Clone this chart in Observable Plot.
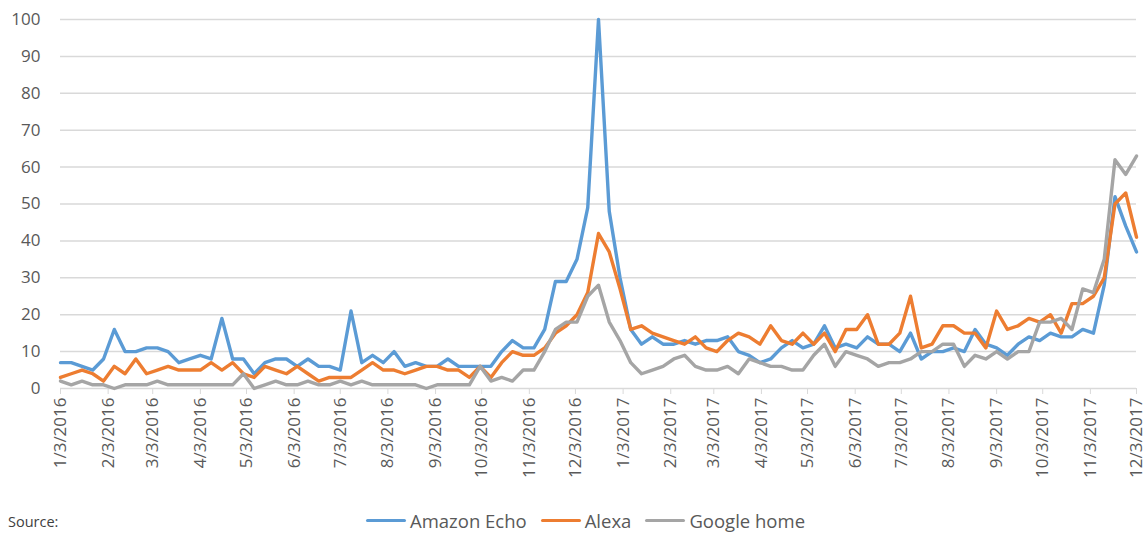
<!DOCTYPE html>
<html><head><meta charset="utf-8">
<script src="https://cdn.jsdelivr.net/npm/d3@7"></script>
<script src="https://cdn.jsdelivr.net/npm/@observablehq/plot@0.6"></script>
<style>
body{margin:0;background:#fff;font-family:"Open Sans",sans-serif;}
#wrap{position:relative;width:1146px;height:533px;overflow:hidden;}
#source{position:absolute;left:8px;top:513px;font-size:14.5px;line-height:18px;color:#404040;}
#legend{position:absolute;left:0;width:1171px;top:508px;display:flex;justify-content:center;gap:14px;font-size:18.5px;color:#595959;}
.item{display:flex;align-items:center;gap:4px;}
.sw{display:inline-block;width:40px;height:3.5px;border-radius:2px;}
</style></head><body>
<div id="wrap"><div id="chart"></div><div id="source">Source:</div><div id="legend"></div></div>
<script>
const seriesNames = ["Amazon Echo", "Alexa", "Google home"];
const seriesColors = ["#5B9BD5", "#ED7D31", "#A5A5A5"];
const startDate = "1/3/2016";
const tickLabels = ["1/3/2016","2/3/2016","3/3/2016","4/3/2016","5/3/2016","6/3/2016","7/3/2016","8/3/2016","9/3/2016","10/3/2016","11/3/2016","12/3/2016",
  "1/3/2017","2/3/2017","3/3/2017","4/3/2017","5/3/2017","6/3/2017","7/3/2017","8/3/2017","9/3/2017","10/3/2017","11/3/2017","12/3/2017"];
const yTicks = [0,10,20,30,40,50,60,70,80,90,100];
// weekly values starting 1/3/2016
const echo = [7,7,6,5,8,16,10,10,11,11,10,7,8,9,8,19,8,8,4,7,8,8,6,8,6,6,5,21,7,9,7,10,6,7,6,6,8,6,6,6,6,10,13,11,11,16,29,29,35,49,
  100,48,30,16,12,14,12,12,13,12,13,13,14,10,9,7,8,11,13,11,12,17,11,12,11,14,12,12,10,15,8,10,10,11,10,16,12,11,9,12,14,13,15,14,14,16,15,28,52,44,37];
const alexa = [3,4,5,4,2,6,4,8,4,5,6,5,5,5,7,5,7,4,3,6,5,4,6,4,2,3,3,3,5,7,5,5,4,5,6,6,5,5,3,6,3,7,10,9,9,11,15,17,20,26,
  42,37,27,16,17,15,14,13,12,14,11,10,13,15,14,12,17,13,12,15,12,15,10,16,16,20,12,12,15,25,11,12,17,17,15,15,11,21,16,17,19,18,20,15,23,23,25,30,50,53,41];
const google = [2,1,2,1,1,0,1,1,1,2,1,1,1,1,1,1,1,4,0,1,2,1,1,2,1,1,2,1,2,1,1,1,1,1,0,1,1,1,1,6,2,3,2,5,5,10,16,18,18,25,
  28,18,13,7,4,5,6,8,9,6,5,5,6,4,8,7,6,6,5,5,9,12,6,10,9,8,6,7,7,8,10,10,12,12,6,9,8,10,8,10,10,18,18,19,16,27,26,35,62,58,63];

const parse = d3.utcParse("%m/%d/%Y");
const start = parse(startDate);
const tickDates = tickLabels.map(parse);
const labelOf = new Map(tickDates.map((d, i) => [+d, tickLabels[i]]));
const allValues = [echo, alexa, google];
const data = [];
allValues.forEach((vals, k) => vals.forEach((v, i) => data.push({date: d3.utcDay.offset(start, 7 * i), value: v, series: seriesNames[k]})));

const chart = Plot.plot({
  width: 1146, height: 500,
  marginLeft: 60, marginRight: 10, marginTop: 19, marginBottom: 112,
  style: {fontFamily: "Open Sans, sans-serif", background: "white", color: "#595959"},
  x: {type: "utc", domain: [tickDates[0], tickDates[tickDates.length - 1]], label: null},
  y: {domain: [0, 100], label: null},
  color: {domain: seriesNames, range: seriesColors},
  marks: [
    Plot.gridY(yTicks, {stroke: "#d9d9d9", strokeOpacity: 1, strokeWidth: 1.5}),
    Plot.axisY(yTicks, {tickSize: 0, tickPadding: 20, fontSize: 17, fill: "#595959", label: null}),
    Plot.axisX(tickDates, {tickFormat: d => labelOf.get(+d), tickRotate: -90, tickSize: 6, tickPadding: 3, stroke: "#d9d9d9", fill: "#595959", fontSize: 17, label: null}),
    Plot.lineY(data, {x: "date", y: "value", z: "series", stroke: "series", strokeWidth: 3.4, strokeLinejoin: "round", strokeLinecap: "round"})
  ]
});
document.getElementById("chart").appendChild(chart);
const legend = document.getElementById("legend");
seriesNames.forEach((n, i) => {
  const it = document.createElement("div"); it.className = "item";
  it.innerHTML = `<span class="sw" style="background:${seriesColors[i]}"></span><span>${n}</span>`;
  legend.appendChild(it);
});
</script></body></html>
